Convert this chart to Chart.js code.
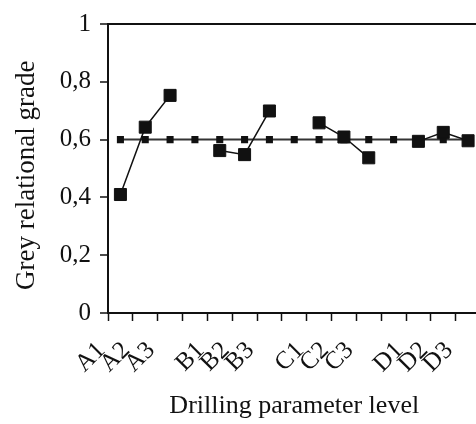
<!DOCTYPE html>
<html>
<head>
<meta charset="utf-8">
<script src="https://cdn.jsdelivr.net/npm/chart.js@4"></script>
<style>
  html, body { margin: 0; padding: 0; background: #fff; overflow: hidden; }
  #wrap { width: 490px; height: 424px; }
</style>
</head>
<body>
<div id="wrap"><canvas id="chart"></canvas></div>
<script>
const levels = ["A1", "A2", "A3", "", "B1", "B2", "B3", "", "C1", "C2", "C3", "", "D1", "D2", "D3"];
const greyGrade = [0.41, 0.643, 0.753, null, 0.562, 0.548, 0.699, null, 0.658, 0.609, 0.537, null, 0.594, 0.625, 0.596];
const meanGrade = [0.6, 0.6, 0.6, 0.6, 0.6, 0.6, 0.6, 0.6, 0.6, 0.6, 0.6, 0.6, 0.6, 0.6, 0.6];
const yTicks = [0, 0.2, 0.4, 0.6, 0.8, 1];

const SERIF = '"Liberation Serif", "Times New Roman", serif';
const INK = "#111";

const ctx = document.getElementById("chart").getContext("2d");

new Chart(ctx, {
    type: "line",
    data: {
        labels: levels,
        datasets: [
            {
                label: "Grey relational grade",
                data: greyGrade,
                borderColor: INK,
                backgroundColor: INK,
                borderWidth: 1.5,
                pointStyle: "rect",
                pointRadius: 8.5,
                pointBorderWidth: 1,
                spanGaps: false,
                tension: 0
            },
            {
                label: "Mean",
                data: meanGrade,
                borderColor: "#333",
                backgroundColor: INK,
                borderWidth: 2,
                pointStyle: "rect",
                pointRadius: 5,
                pointBorderWidth: 0,
                tension: 0
            }
        ]
    },
    options: {
        responsive: true,
        maintainAspectRatio: false,
        animation: false,
        layout: { padding: { top: 17, right: 0, left: 0, bottom: 0 } },
        plugins: {
            legend: { display: false },
            tooltip: { enabled: false }
        },
        scales: {
            x: {
                offset: true,
                grid: {
                    offset: true,
                    drawOnChartArea: false,
                    tickLength: 8,
                    tickColor: INK,
                    tickWidth: 1.5
                },
                border: { color: INK, width: 2 },
                ticks: {
                    autoSkip: false,
                    maxRotation: 45,
                    minRotation: 45,
                    padding: 15,
                    labelOffset: -19,
                    color: INK,
                    font: { family: SERIF, size: 25 }
                },
                title: {
                    display: true,
                    text: "Drilling parameter level",
                    color: INK,
                    font: { family: SERIF, size: 26 },
                    padding: { top: 0, bottom: 2 }
                },
                afterFit(scale) {
                    scale.height = 111;
                    scale.paddingLeft = 0;
                    scale.paddingRight = 0;
                }
            },
            y: {
                min: 0,
                max: 1,
                afterBuildTicks(scale) { scale.ticks = yTicks.map(v => ({ value: v })); },
                grid: {
                    color: c => (c.tick && c.tick.value === 1 ? INK : "rgba(0,0,0,0)"),
                    lineWidth: 2,
                    tickLength: 8,
                    tickColor: INK,
                    tickWidth: 1.5
                },
                border: { color: INK, width: 2 },
                ticks: {
                    padding: 9,
                    color: INK,
                    font: { family: SERIF, size: 25 },
                    callback: v => (v === 0 || v === 1 ? String(v) : v.toFixed(1).replace(".", ","))
                },
                title: {
                    display: true,
                    text: "Grey relational grade  ",
                    color: INK,
                    font: { family: SERIF, size: 27 },
                    padding: { top: 11, bottom: 0 }
                },
                afterFit(scale) { scale.width = 108; }
            }
        }
    }
});
</script>
</body>
</html>
